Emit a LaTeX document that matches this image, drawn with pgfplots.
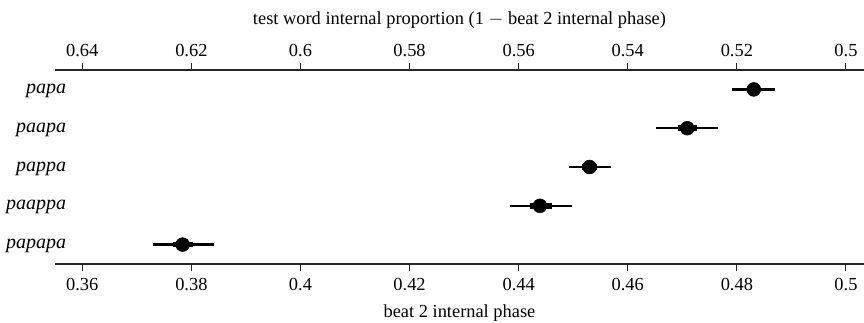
\documentclass[border=0pt]{standalone}
\usepackage{fontspec}
\setmainfont{Liberation Serif}
\usepackage{pgfplots}
\usepackage{pgfplotstable}
\pgfplotsset{compat=1.18}
\pgfplotstableread{
y x   om     op     im     ip
5 0.4831 0.0040 0.0038 0.0012 0.0012
4 0.4709 0.0058 0.0057 0.0017 0.0018
3 0.4530 0.0038 0.0040 0.0014 0.0014
2 0.4439 0.0055 0.0058 0.0019 0.0022
1 0.3784 0.0054 0.0057 0.0017 0.0019
}\data
\begin{document}
\begin{tikzpicture}
\pgfplotsset{
  common/.style={
    width=505.6pt, height=121.25pt, scale only axis,
    ymin=0.5, ymax=5.5,
    tick align=outside,
    major tick length=4.5pt,
    /pgf/number format/assume math mode=true,
    axis line style={line width=0.7pt, black!85},
    xtick style={line width=0.6pt, black!85},
    tick label style={font=\fontsize{11.5}{13}\selectfont},
    label style={font=\fontsize{11.5}{13}\selectfont},
  }
}
\begin{axis}[common,
  at={(0,0)}, anchor=south west,
  xmin=0.355, xmax=0.5033,
  axis x line*=bottom, axis y line*=left,
  y axis line style={draw=none},
  ytick style={draw=none},
  xtick={0.36,0.38,...,0.501},
  xticklabel style={yshift=-1pt, /pgf/number format/.cd, fixed, precision=2},
  ytick={1,2,3,4,5},
  yticklabels={papapa,paappa,pappa,paapa,papa},
  yticklabel style={font=\itshape\fontsize{12.5}{14}\selectfont, xshift=15pt, yshift=-1pt},
  xlabel={beat 2 internal phase},
  xlabel style={yshift=-2pt},
]
\addplot[only marks, mark=none, draw=black,
  error bars/.cd, x dir=both, x explicit, error mark=none,
  error bar style={line width=1.45pt, black}]
  table[x=x, y=y, x error minus=om, x error plus=op] {\data};
\addplot[only marks, mark=none, draw=black,
  error bars/.cd, x dir=both, x explicit, error mark=none,
  error bar style={line width=3.6pt, black}]
  table[x=x, y=y, x error minus=im, x error plus=ip] {\data};
\addplot[only marks, mark=*, mark size=4.3pt, black, mark options={fill=black}]
  table[x=x, y=y] {\data};
\end{axis}
\begin{axis}[common,
  at={(0,0)}, anchor=south west,
  xmin=0.4967, xmax=0.645, x dir=reverse,
  axis x line*=top,
  hide y axis,
  xtick={0.5,0.52,...,0.641},
  xticklabel style={/pgf/number format/.cd, fixed, precision=2},
  xlabel={test word internal proportion (1 $-$ beat 2 internal phase)},
  xlabel style={yshift=3pt},
]
\addplot[draw=none] coordinates {(0.5,1)};
\end{axis}
\pgfresetboundingbox
\path (-34.375pt,-36.25pt) rectangle (505.625pt,165pt);
\end{tikzpicture}
\end{document}
